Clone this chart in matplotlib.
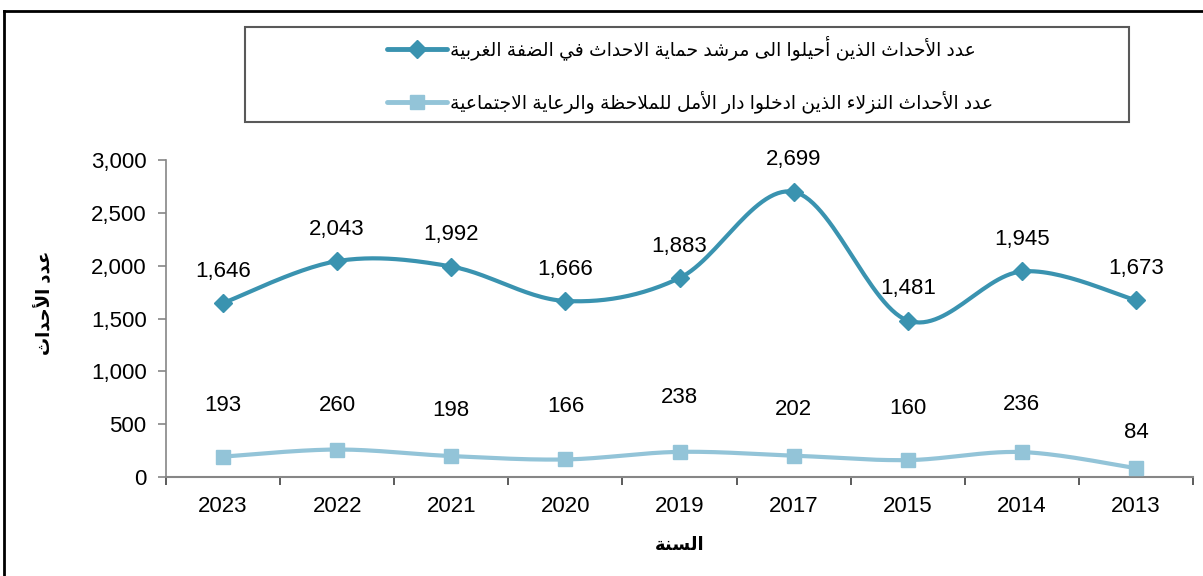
import matplotlib
matplotlib.use('Agg')
import matplotlib.pyplot as plt
import numpy as np
from matplotlib.lines import Line2D
from matplotlib.patches import Rectangle

# data
years = ['2023', '2022', '2021', '2020', '2019', '2017', '2015', '2014', '2013']
referred = [1646, 2043, 1992, 1666, 1883, 2699, 1481, 1945, 1673]
admitted = [193, 260, 198, 166, 238, 202, 160, 236, 84]
y_ticks = [0, 500, 1000, 1500, 2000, 2500, 3000]

label_referred = 'عدد الأحداث الذين أحيلوا الى مرشد حماية الاحداث في الضفة الغربية'
label_admitted = 'عدد الأحداث النزلاء الذين ادخلوا دار الأمل للملاحظة والرعاية الاجتماعية'
y_title = 'عدد الأحداث'
x_title = 'السنة'

# label offsets (points) for the lower series, as placed in the reference
admitted_label_dy = [37, 32, 33, 38, 39, 33, 37, 34, 26]

C_DARK = '#3A93B0'
C_LIGHT = '#93C4D8'
NUM_FONT = ['Liberation Sans', 'DejaVu Sans']
AR_FONT = ['Liberation Sans', 'DejaVu Sans']

# --- minimal Arabic shaping (presentation forms + visual order) ---
FORMS = {
    'ء': (0xFE80, 1), 'آ': (0xFE81, 2), 'أ': (0xFE83, 2), 'ؤ': (0xFE85, 2),
    'إ': (0xFE87, 2), 'ئ': (0xFE89, 4), 'ا': (0xFE8D, 2), 'ب': (0xFE8F, 4),
    'ة': (0xFE93, 2), 'ت': (0xFE95, 4), 'ث': (0xFE99, 4), 'ج': (0xFE9D, 4),
    'ح': (0xFEA1, 4), 'خ': (0xFEA5, 4), 'د': (0xFEA9, 2), 'ذ': (0xFEAB, 2),
    'ر': (0xFEAD, 2), 'ز': (0xFEAF, 2), 'س': (0xFEB1, 4), 'ش': (0xFEB5, 4),
    'ص': (0xFEB9, 4), 'ض': (0xFEBD, 4), 'ط': (0xFEC1, 4), 'ظ': (0xFEC5, 4),
    'ع': (0xFEC9, 4), 'غ': (0xFECD, 4), 'ف': (0xFED1, 4), 'ق': (0xFED5, 4),
    'ك': (0xFED9, 4), 'ل': (0xFEDD, 4), 'م': (0xFEE1, 4), 'ن': (0xFEE5, 4),
    'ه': (0xFEE9, 4), 'و': (0xFEED, 2), 'ى': (0xFEEF, 2), 'ي': (0xFEF1, 4),
}
LAM_ALEF = {'آ': 0xFEF5, 'أ': 0xFEF7, 'إ': 0xFEF9, 'ا': 0xFEFB}


def shape(text):
    units = []
    i = 0
    while i < len(text):
        c = text[i]
        if c == 'ل' and i + 1 < len(text) and text[i + 1] in LAM_ALEF:
            units.append(('LA', text[i + 1]))
            i += 2
        else:
            units.append((c, None))
            i += 1

    def n_forms(u):
        if u == 'LA':
            return 2
        return FORMS[u][1] if u in FORMS else 0

    out = []
    for k, (c, extra) in enumerate(units):
        prev = units[k - 1][0] if k > 0 else None
        nxt = units[k + 1][0] if k + 1 < len(units) else None
        n = n_forms(c)
        jp = prev is not None and n_forms(prev) == 4 and n >= 2
        jn = n == 4 and nxt is not None and n_forms(nxt) >= 2
        if c == 'LA':
            out.append(chr(LAM_ALEF[extra] + (1 if jp else 0)))
            continue
        if n == 0:
            out.append(c)
            continue
        base = FORMS[c][0]
        if jp and jn:
            off = 3
        elif jp:
            off = 1
        elif jn:
            off = 2
        else:
            off = 0
        out.append(chr(base + off))
    return ''.join(reversed(out))


def smooth(values, steps=30):
    # Catmull-Rom curve through the points, similar to a "smoothed line"
    y = np.asarray(values, dtype=float)
    x = np.arange(len(y), dtype=float)
    px = np.concatenate([[x[0]], x, [x[-1]]])
    py = np.concatenate([[y[0]], y, [y[-1]]])
    xs, ys = [], []
    t = np.linspace(0, 1, steps)
    for i in range(1, len(px) - 2):
        for arr, res in ((px, xs), (py, ys)):
            p0, p1, p2, p3 = arr[i - 1], arr[i], arr[i + 1], arr[i + 2]
            res.extend(0.5 * ((2 * p1) + (-p0 + p2) * t
                              + (2 * p0 - 5 * p1 + 4 * p2 - p3) * t ** 2
                              + (-p0 + 3 * p1 - 3 * p2 + p3) * t ** 3))
    return np.array(xs), np.array(ys)


fig = plt.figure(figsize=(12.03, 5.76), dpi=100)
fig.patch.set_facecolor('white')
ax = fig.add_axes([166 / 1203, 99 / 576, 1027 / 1203, 317 / 576])

xi = np.arange(len(years))
for vals, color, marker, ms in ((referred, C_DARK, 'D', 9), (admitted, C_LIGHT, 's', 10.5)):
    sx, sy = smooth(vals)
    ax.plot(sx, sy, color=color, lw=3, solid_capstyle='round', zorder=2)
    ax.plot(xi, vals, linestyle='none', marker=marker, ms=ms, color=color,
            markeredgecolor=color, zorder=3)

for i, v in enumerate(referred):
    ax.annotate(f'{v:,}', (i, v), xytext=(0, 23), textcoords='offset points',
                ha='center', va='center', fontsize=16, family=NUM_FONT)
for i, v in enumerate(admitted):
    ax.annotate(f'{v:,}', (i, v), xytext=(0, admitted_label_dy[i]), textcoords='offset points',
                ha='center', va='center', fontsize=16, family=NUM_FONT)

ax.set_xlim(-0.5, len(years) - 0.5)
ax.set_ylim(0, 3000)
ax.set_yticks(y_ticks)
ax.set_yticklabels([f'{t:,}' for t in y_ticks], fontsize=16, family=NUM_FONT)
ax.set_xticks(xi)
ax.set_xticklabels(years, fontsize=16, family=NUM_FONT)
ax.set_xticks(np.arange(len(years) + 1) - 0.5, minor=True)
ax.tick_params(axis='x', which='major', length=0, pad=14)
ax.tick_params(axis='x', which='minor', length=6, width=1.2, color='#404040', direction='out')
ax.tick_params(axis='y', length=6, width=1.2, color='#868686', direction='out', pad=8)
for s in ('top', 'right'):
    ax.spines[s].set_visible(False)
ax.spines['left'].set_color('#868686')
ax.spines['bottom'].set_color('#868686')
ax.spines['left'].set_linewidth(1.2)
ax.spines['bottom'].set_linewidth(1.5)

ax.set_xlabel(shape(x_title), fontsize=13, fontweight='bold', family=AR_FONT, labelpad=14)
ax.set_ylabel(shape(y_title), fontsize=13, fontweight='bold', family=AR_FONT)
ax.yaxis.set_label_coords(-112 / 1027, 0.55)

# outer frame (top and left edges visible)
fig.add_artist(Line2D([3.5 / 1203, 1], [1 - 10.5 / 576] * 2, transform=fig.transFigure,
                      color='black', lw=2))
fig.add_artist(Line2D([3.5 / 1203] * 2, [0, 1 - 10.5 / 576], transform=fig.transFigure,
                      color='black', lw=2))

# legend box
fig.add_artist(Rectangle((245 / 1203, 1 - 122 / 576), 884 / 1203, 95 / 576,
                         transform=fig.transFigure, fill=False, edgecolor='#595959', lw=1.5))
handles = [
    Line2D([], [], color=C_DARK, lw=3.5, marker='D', ms=9, solid_capstyle='round'),
    Line2D([], [], color=C_LIGHT, lw=3.5, marker='s', ms=10.5, solid_capstyle='round'),
]
fig.legend(handles, [shape(label_referred), shape(label_admitted)], loc='center',
           bbox_to_anchor=(690 / 1203, 1 - 74.5 / 576), frameon=False,
           prop={'family': AR_FONT, 'size': 13.5}, handlelength=3.2, handletextpad=0.15,
           labelspacing=1.65)

plt.savefig('out.png', dpi=100, facecolor='white')
plt.close()
